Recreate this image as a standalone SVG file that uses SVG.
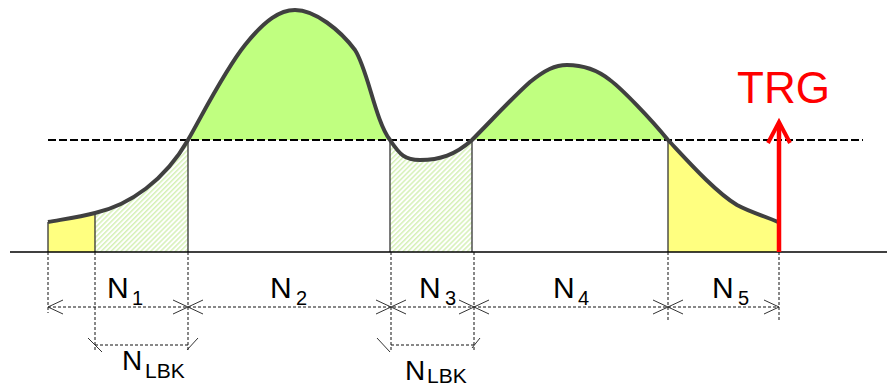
<svg xmlns="http://www.w3.org/2000/svg" width="887" height="388" viewBox="0 0 887 388">
<style>
.lbl{font-family:"Liberation Sans",Arial,sans-serif;fill:#000}
.big{font-size:30px}
.sub{font-size:20px}
.dim{stroke:#111;stroke-width:1;stroke-dasharray:3,2;fill:none}
.tick{stroke:#333;stroke-width:1;fill:none}
.edge{stroke:#333;stroke-width:1.3;fill:none}
</style>
<defs>
<pattern id="hatch" patternUnits="userSpaceOnUse" width="3.5" height="3.5" patternTransform="rotate(45)">
<rect width="3.5" height="3.5" fill="#fff"/>
<line x1="0.8" y1="0" x2="0.8" y2="3.5" stroke="#c2ea94" stroke-width="1"/>
</pattern>
</defs>
<rect width="887" height="388" fill="#fff"/>
<g id="regions">
<path d="M48,222 C65,219 80,217 95,213 L95,252 L48,252 Z" fill="#ffff80"/>
<path d="M95,213 C130,205 165,180 188,140 L188,252 L95,252 Z" fill="url(#hatch)"/>
<path d="M188,140 C205,110 225,70 245,45 C265,20 280,10 295,10 C315,10 340,30 355,50 C368,70 375,120 390,140 Z" fill="#c0ff80"/>
<path d="M390,140 C400,155 405,160 420,160 C440,160 455,155 472,140 L472,252 L390,252 Z" fill="url(#hatch)"/>
<path d="M472,140 C490,122 512,98 530,82 C545,70 555,65 567,65 C585,65 600,72 610,80 C622,89 650,118 668,140 Z" fill="#c0ff80"/>
<path d="M668,140 C685,158 715,192 737,205 C752,213 765,216 778,222 L778,252 L668,252 Z" fill="#ffff80"/>
</g>
<g id="edges">
<line class="edge" x1="48" y1="222" x2="48" y2="252"/>
<line class="edge" x1="95" y1="213" x2="95" y2="252"/>
<line class="edge" x1="188" y1="140" x2="188" y2="252"/>
<line class="edge" x1="390" y1="140" x2="390" y2="252"/>
<line class="edge" x1="472" y1="140" x2="472" y2="252"/>
<line class="edge" x1="668" y1="140" x2="668" y2="252"/>
</g>
<g id="threshold">
<line x1="48" y1="140" x2="863" y2="140" stroke="#000" stroke-width="2" stroke-dasharray="8,3"/>
</g>
<g id="baseline">
<line x1="10" y1="252" x2="887" y2="252" stroke="#000" stroke-width="1.3"/>
</g>
<g id="curve">
<path d="M48,222 C65,219 80,217 95,213 C130,205 165,180 188,140 C205,110 225,70 245,45 C265,20 280,10 295,10 C315,10 340,30 355,50 C368,70 375,120 390,140 C400,155 405,160 420,160 C440,160 455,155 472,140 C490,122 512,98 530,82 C545,70 555,65 567,65 C585,65 600,72 610,80 C622,89 650,118 668,140 C685,158 715,192 737,205 C752,213 765,216 778,222" fill="none" stroke="#404040" stroke-width="4" stroke-linejoin="round"/>
</g>
<g id="connectors">
<line class="dim" x1="48" y1="252" x2="48" y2="313"/>
<line class="dim" x1="95" y1="252" x2="95" y2="352"/>
<line class="dim" x1="188" y1="252" x2="188" y2="352"/>
<line class="dim" x1="391" y1="252" x2="391" y2="352"/>
<line class="dim" x1="474" y1="252" x2="474" y2="352"/>
<line class="dim" x1="668" y1="252" x2="668" y2="322"/>
<line class="dim" x1="779" y1="252" x2="779" y2="322"/>
<line class="dim" x1="48" y1="307" x2="779" y2="307"/>
<path class="tick" d="M63,300 L48,307 L63,314 M173,300 L203,314 M173,314 L203,300 M376,300 L406,314 M376,314 L406,300 M459,300 L489,314 M459,314 L489,300 M653,300 L683,314 M653,314 L683,300 M764,300 L779,307 L764,314"/>
<line class="dim" x1="95" y1="345" x2="188" y2="345"/>
<path class="tick" d="M88,338 L102,352 M198,338 L187,350"/>
<line class="dim" x1="391" y1="345" x2="474" y2="345"/>
<path class="tick" d="M377,338 L390,352 M480,338 L472,348"/>
</g>
<g id="trigger">
<line x1="779" y1="252" x2="779" y2="126" stroke="#ff0000" stroke-width="4.5"/>
<polyline points="768,143 779,122 790,143" fill="none" stroke="#ff0000" stroke-width="4"/>
<text x="737" y="103" font-family="Liberation Sans,Arial,sans-serif" font-size="44" fill="#ff0000">TRG</text>
</g>
<g id="labels">
<text class="lbl big" x="107" y="298">N</text><text class="lbl sub" x="132" y="305">1</text>
<text class="lbl big" x="270" y="298">N</text><text class="lbl sub" x="296" y="305">2</text>
<text class="lbl big" x="419" y="298">N</text><text class="lbl sub" x="445" y="305">3</text>
<text class="lbl big" x="553" y="298">N</text><text class="lbl sub" x="578" y="305">4</text>
<text class="lbl big" x="712" y="298">N</text><text class="lbl sub" x="738" y="305">5</text>
<text class="lbl" x="122" y="370" font-size="28">N</text><text class="lbl" x="145" y="378" font-size="21">LBK</text>
<text class="lbl" x="405" y="380" font-size="28">N</text><text class="lbl" x="427" y="383" font-size="21">LBK</text>
</g>
</svg>
